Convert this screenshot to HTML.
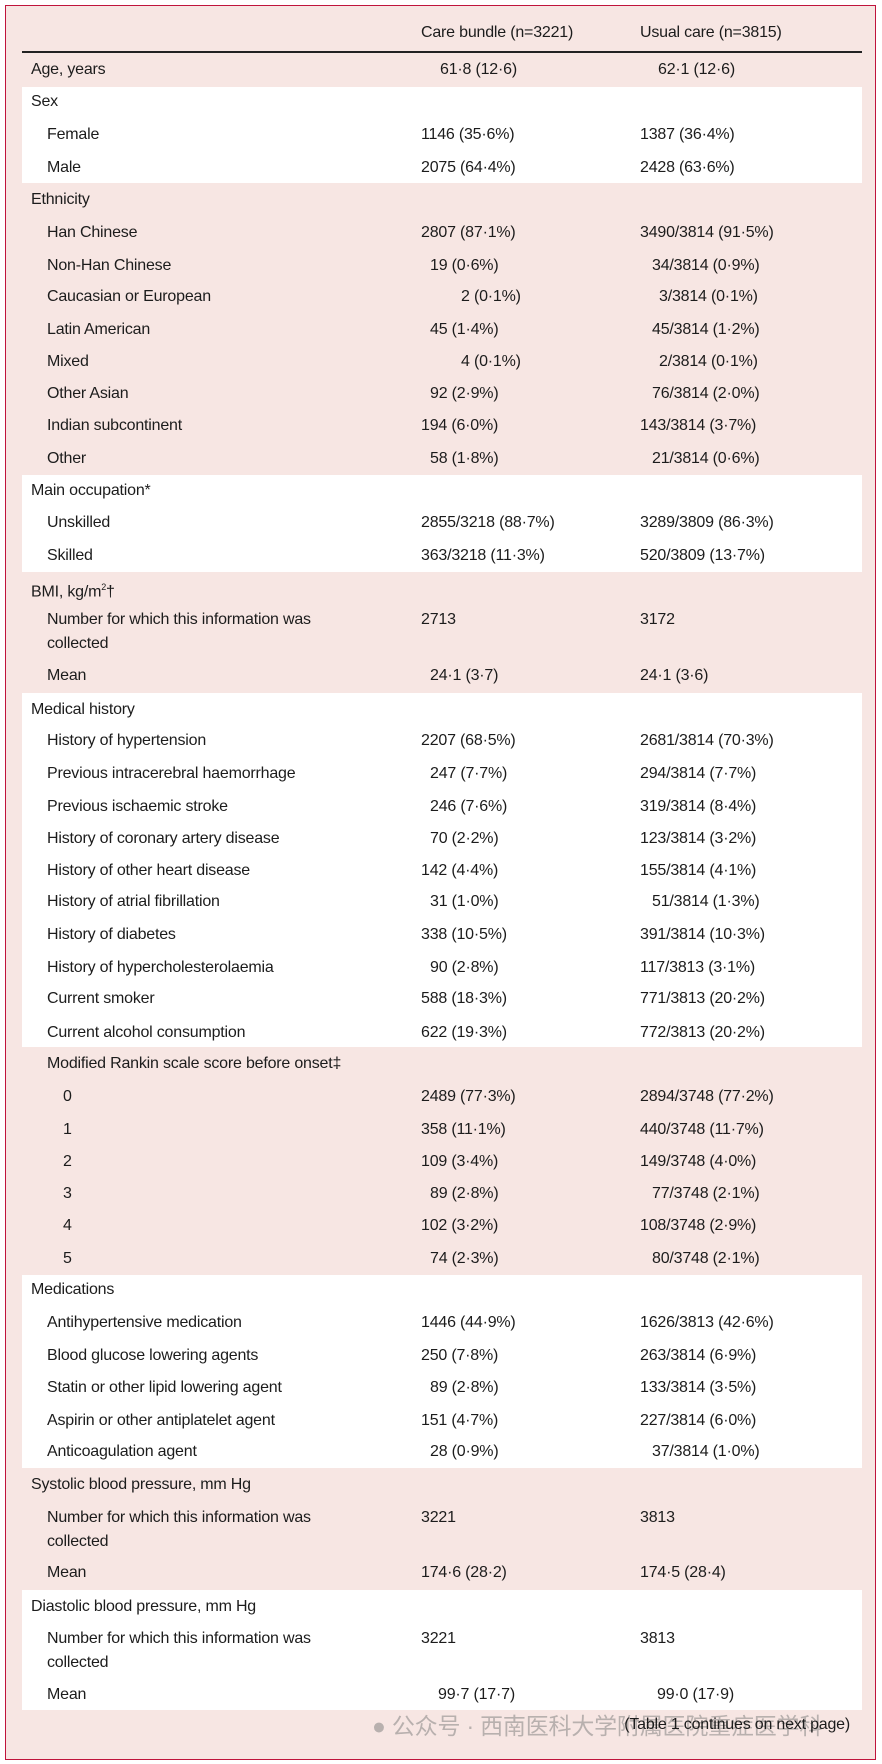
<!DOCTYPE html>
<html><head><meta charset="utf-8"><style>
body{margin:0;width:882px;height:1764px;background:#fff;position:relative;overflow:hidden;font-family:"Liberation Sans","Noto Sans CJK SC",sans-serif;color:#1c1c1c;font-size:16px}
.frame{position:absolute;left:5px;top:5px;width:869px;height:1753px;background:#f7e6e3;border:1.5px solid #c0143c}
.w{position:absolute;left:22px;width:840px;background:#fff}
.r{position:absolute;line-height:24px;white-space:nowrap;letter-spacing:-0.2px}
.hl{position:absolute;left:22px;width:840px;top:51px;height:1.5px;background:#222}
</style></head><body>
<div class="frame"></div>
<div class="w" style="top:87px;height:96px"></div>
<div class="w" style="top:475px;height:97px"></div>
<div class="w" style="top:693px;height:354px"></div>
<div class="w" style="top:1275px;height:193px"></div>
<div class="w" style="top:1590px;height:120px"></div>
<div class="hl"></div>
<div class="r" style="left:421px;top:21px">Care bundle (n=3221)</div>
<div class="r" style="left:640px;top:21px">Usual care (n=3815)</div>

<div class="r" style="left:31px;top:58px">Age, years</div><div class="r" style="left:440px;top:58px">61·8 (12·6)</div><div class="r" style="left:658px;top:58px">62·1 (12·6)</div>
<div class="r" style="left:31px;top:90px">Sex</div>
<div class="r" style="left:47px;top:123px">Female</div><div class="r" style="left:421px;top:123px">1146 (35·6%)</div><div class="r" style="left:640px;top:123px">1387 (36·4%)</div>
<div class="r" style="left:47px;top:156px">Male</div><div class="r" style="left:421px;top:156px">2075 (64·4%)</div><div class="r" style="left:640px;top:156px">2428 (63·6%)</div>
<div class="r" style="left:31px;top:188px">Ethnicity</div>
<div class="r" style="left:47px;top:221px">Han Chinese</div><div class="r" style="left:421px;top:221px">2807 (87·1%)</div><div class="r" style="left:640px;top:221px">3490/3814 (91·5%)</div>
<div class="r" style="left:47px;top:254px">Non-Han Chinese</div><div class="r" style="left:430px;top:254px">19 (0·6%)</div><div class="r" style="left:652px;top:254px">34/3814 (0·9%)</div>
<div class="r" style="left:47px;top:285px">Caucasian or European</div><div class="r" style="left:461px;top:285px">2 (0·1%)</div><div class="r" style="left:659px;top:285px">3/3814 (0·1%)</div>
<div class="r" style="left:47px;top:318px">Latin American</div><div class="r" style="left:430px;top:318px">45 (1·4%)</div><div class="r" style="left:652px;top:318px">45/3814 (1·2%)</div>
<div class="r" style="left:47px;top:350px">Mixed</div><div class="r" style="left:461px;top:350px">4 (0·1%)</div><div class="r" style="left:659px;top:350px">2/3814 (0·1%)</div>
<div class="r" style="left:47px;top:382px">Other Asian</div><div class="r" style="left:430px;top:382px">92 (2·9%)</div><div class="r" style="left:652px;top:382px">76/3814 (2·0%)</div>
<div class="r" style="left:47px;top:414px">Indian subcontinent</div><div class="r" style="left:421px;top:414px">194 (6·0%)</div><div class="r" style="left:640px;top:414px">143/3814 (3·7%)</div>
<div class="r" style="left:47px;top:447px">Other</div><div class="r" style="left:430px;top:447px">58 (1·8%)</div><div class="r" style="left:652px;top:447px">21/3814 (0·6%)</div>
<div class="r" style="left:31px;top:479px">Main occupation*</div>
<div class="r" style="left:47px;top:511px">Unskilled</div><div class="r" style="left:421px;top:511px">2855/3218 (88·7%)</div><div class="r" style="left:640px;top:511px">3289/3809 (86·3%)</div>
<div class="r" style="left:47px;top:544px">Skilled</div><div class="r" style="left:421px;top:544px">363/3218 (11·3%)</div><div class="r" style="left:640px;top:544px">520/3809 (13·7%)</div>
<div class="r" style="left:31px;top:575px">BMI, kg/m<sup style="font-size:9px">2</sup>†</div>
<div class="r" style="left:47px;top:608px">Number for which this information was<br>collected</div><div class="r" style="left:421px;top:608px">2713</div><div class="r" style="left:640px;top:608px">3172</div>
<div class="r" style="left:47px;top:664px">Mean</div><div class="r" style="left:430px;top:664px">24·1 (3·7)</div><div class="r" style="left:640px;top:664px">24·1 (3·6)</div>
<div class="r" style="left:31px;top:698px">Medical history</div>
<div class="r" style="left:47px;top:729px">History of hypertension</div><div class="r" style="left:421px;top:729px">2207 (68·5%)</div><div class="r" style="left:640px;top:729px">2681/3814 (70·3%)</div>
<div class="r" style="left:47px;top:762px">Previous intracerebral haemorrhage</div><div class="r" style="left:430px;top:762px">247 (7·7%)</div><div class="r" style="left:640px;top:762px">294/3814 (7·7%)</div>
<div class="r" style="left:47px;top:795px">Previous ischaemic stroke</div><div class="r" style="left:430px;top:795px">246 (7·6%)</div><div class="r" style="left:640px;top:795px">319/3814 (8·4%)</div>
<div class="r" style="left:47px;top:827px">History of coronary artery disease</div><div class="r" style="left:430px;top:827px">70 (2·2%)</div><div class="r" style="left:640px;top:827px">123/3814 (3·2%)</div>
<div class="r" style="left:47px;top:859px">History of other heart disease</div><div class="r" style="left:421px;top:859px">142 (4·4%)</div><div class="r" style="left:640px;top:859px">155/3814 (4·1%)</div>
<div class="r" style="left:47px;top:890px">History of atrial fibrillation</div><div class="r" style="left:430px;top:890px">31 (1·0%)</div><div class="r" style="left:652px;top:890px">51/3814 (1·3%)</div>
<div class="r" style="left:47px;top:923px">History of diabetes</div><div class="r" style="left:421px;top:923px">338 (10·5%)</div><div class="r" style="left:640px;top:923px">391/3814 (10·3%)</div>
<div class="r" style="left:47px;top:956px">History of hypercholesterolaemia</div><div class="r" style="left:430px;top:956px">90 (2·8%)</div><div class="r" style="left:640px;top:956px">117/3813 (3·1%)</div>
<div class="r" style="left:47px;top:987px">Current smoker</div><div class="r" style="left:421px;top:987px">588 (18·3%)</div><div class="r" style="left:640px;top:987px">771/3813 (20·2%)</div>
<div class="r" style="left:47px;top:1021px">Current alcohol consumption</div><div class="r" style="left:421px;top:1021px">622 (19·3%)</div><div class="r" style="left:640px;top:1021px">772/3813 (20·2%)</div>
<div class="r" style="left:47px;top:1052px">Modified Rankin scale score before onset‡</div>
<div class="r" style="left:63px;top:1085px">0</div><div class="r" style="left:421px;top:1085px">2489 (77·3%)</div><div class="r" style="left:640px;top:1085px">2894/3748 (77·2%)</div>
<div class="r" style="left:63px;top:1118px">1</div><div class="r" style="left:421px;top:1118px">358 (11·1%)</div><div class="r" style="left:640px;top:1118px">440/3748 (11·7%)</div>
<div class="r" style="left:63px;top:1150px">2</div><div class="r" style="left:421px;top:1150px">109 (3·4%)</div><div class="r" style="left:640px;top:1150px">149/3748 (4·0%)</div>
<div class="r" style="left:63px;top:1182px">3</div><div class="r" style="left:430px;top:1182px">89 (2·8%)</div><div class="r" style="left:652px;top:1182px">77/3748 (2·1%)</div>
<div class="r" style="left:63px;top:1214px">4</div><div class="r" style="left:421px;top:1214px">102 (3·2%)</div><div class="r" style="left:640px;top:1214px">108/3748 (2·9%)</div>
<div class="r" style="left:63px;top:1247px">5</div><div class="r" style="left:430px;top:1247px">74 (2·3%)</div><div class="r" style="left:652px;top:1247px">80/3748 (2·1%)</div>
<div class="r" style="left:31px;top:1278px">Medications</div>
<div class="r" style="left:47px;top:1311px">Antihypertensive medication</div><div class="r" style="left:421px;top:1311px">1446 (44·9%)</div><div class="r" style="left:640px;top:1311px">1626/3813 (42·6%)</div>
<div class="r" style="left:47px;top:1344px">Blood glucose lowering agents</div><div class="r" style="left:421px;top:1344px">250 (7·8%)</div><div class="r" style="left:640px;top:1344px">263/3814 (6·9%)</div>
<div class="r" style="left:47px;top:1376px">Statin or other lipid lowering agent</div><div class="r" style="left:430px;top:1376px">89 (2·8%)</div><div class="r" style="left:640px;top:1376px">133/3814 (3·5%)</div>
<div class="r" style="left:47px;top:1409px">Aspirin or other antiplatelet agent</div><div class="r" style="left:421px;top:1409px">151 (4·7%)</div><div class="r" style="left:640px;top:1409px">227/3814 (6·0%)</div>
<div class="r" style="left:47px;top:1440px">Anticoagulation agent</div><div class="r" style="left:430px;top:1440px">28 (0·9%)</div><div class="r" style="left:652px;top:1440px">37/3814 (1·0%)</div>
<div class="r" style="left:31px;top:1473px">Systolic blood pressure, mm Hg</div>
<div class="r" style="left:47px;top:1506px">Number for which this information was<br>collected</div><div class="r" style="left:421px;top:1506px">3221</div><div class="r" style="left:640px;top:1506px">3813</div>
<div class="r" style="left:47px;top:1561px">Mean</div><div class="r" style="left:421px;top:1561px">174·6 (28·2)</div><div class="r" style="left:640px;top:1561px">174·5 (28·4)</div>
<div class="r" style="left:31px;top:1595px">Diastolic blood pressure, mm Hg</div>
<div class="r" style="left:47px;top:1627px">Number for which this information was<br>collected</div><div class="r" style="left:421px;top:1627px">3221</div><div class="r" style="left:640px;top:1627px">3813</div>
<div class="r" style="left:47px;top:1683px">Mean</div><div class="r" style="left:438px;top:1683px">99·7 (17·7)</div><div class="r" style="left:657px;top:1683px">99·0 (17·9)</div>
<div class="r" style="left:372px;top:1711px;font-size:23px;line-height:30px;color:#b8b0ae">● 公众号 · 西南医科大学附属医院重症医学科</div>
<div class="r" style="right:32px;top:1713px">(Table 1 continues on next page)</div>
</body></html>
